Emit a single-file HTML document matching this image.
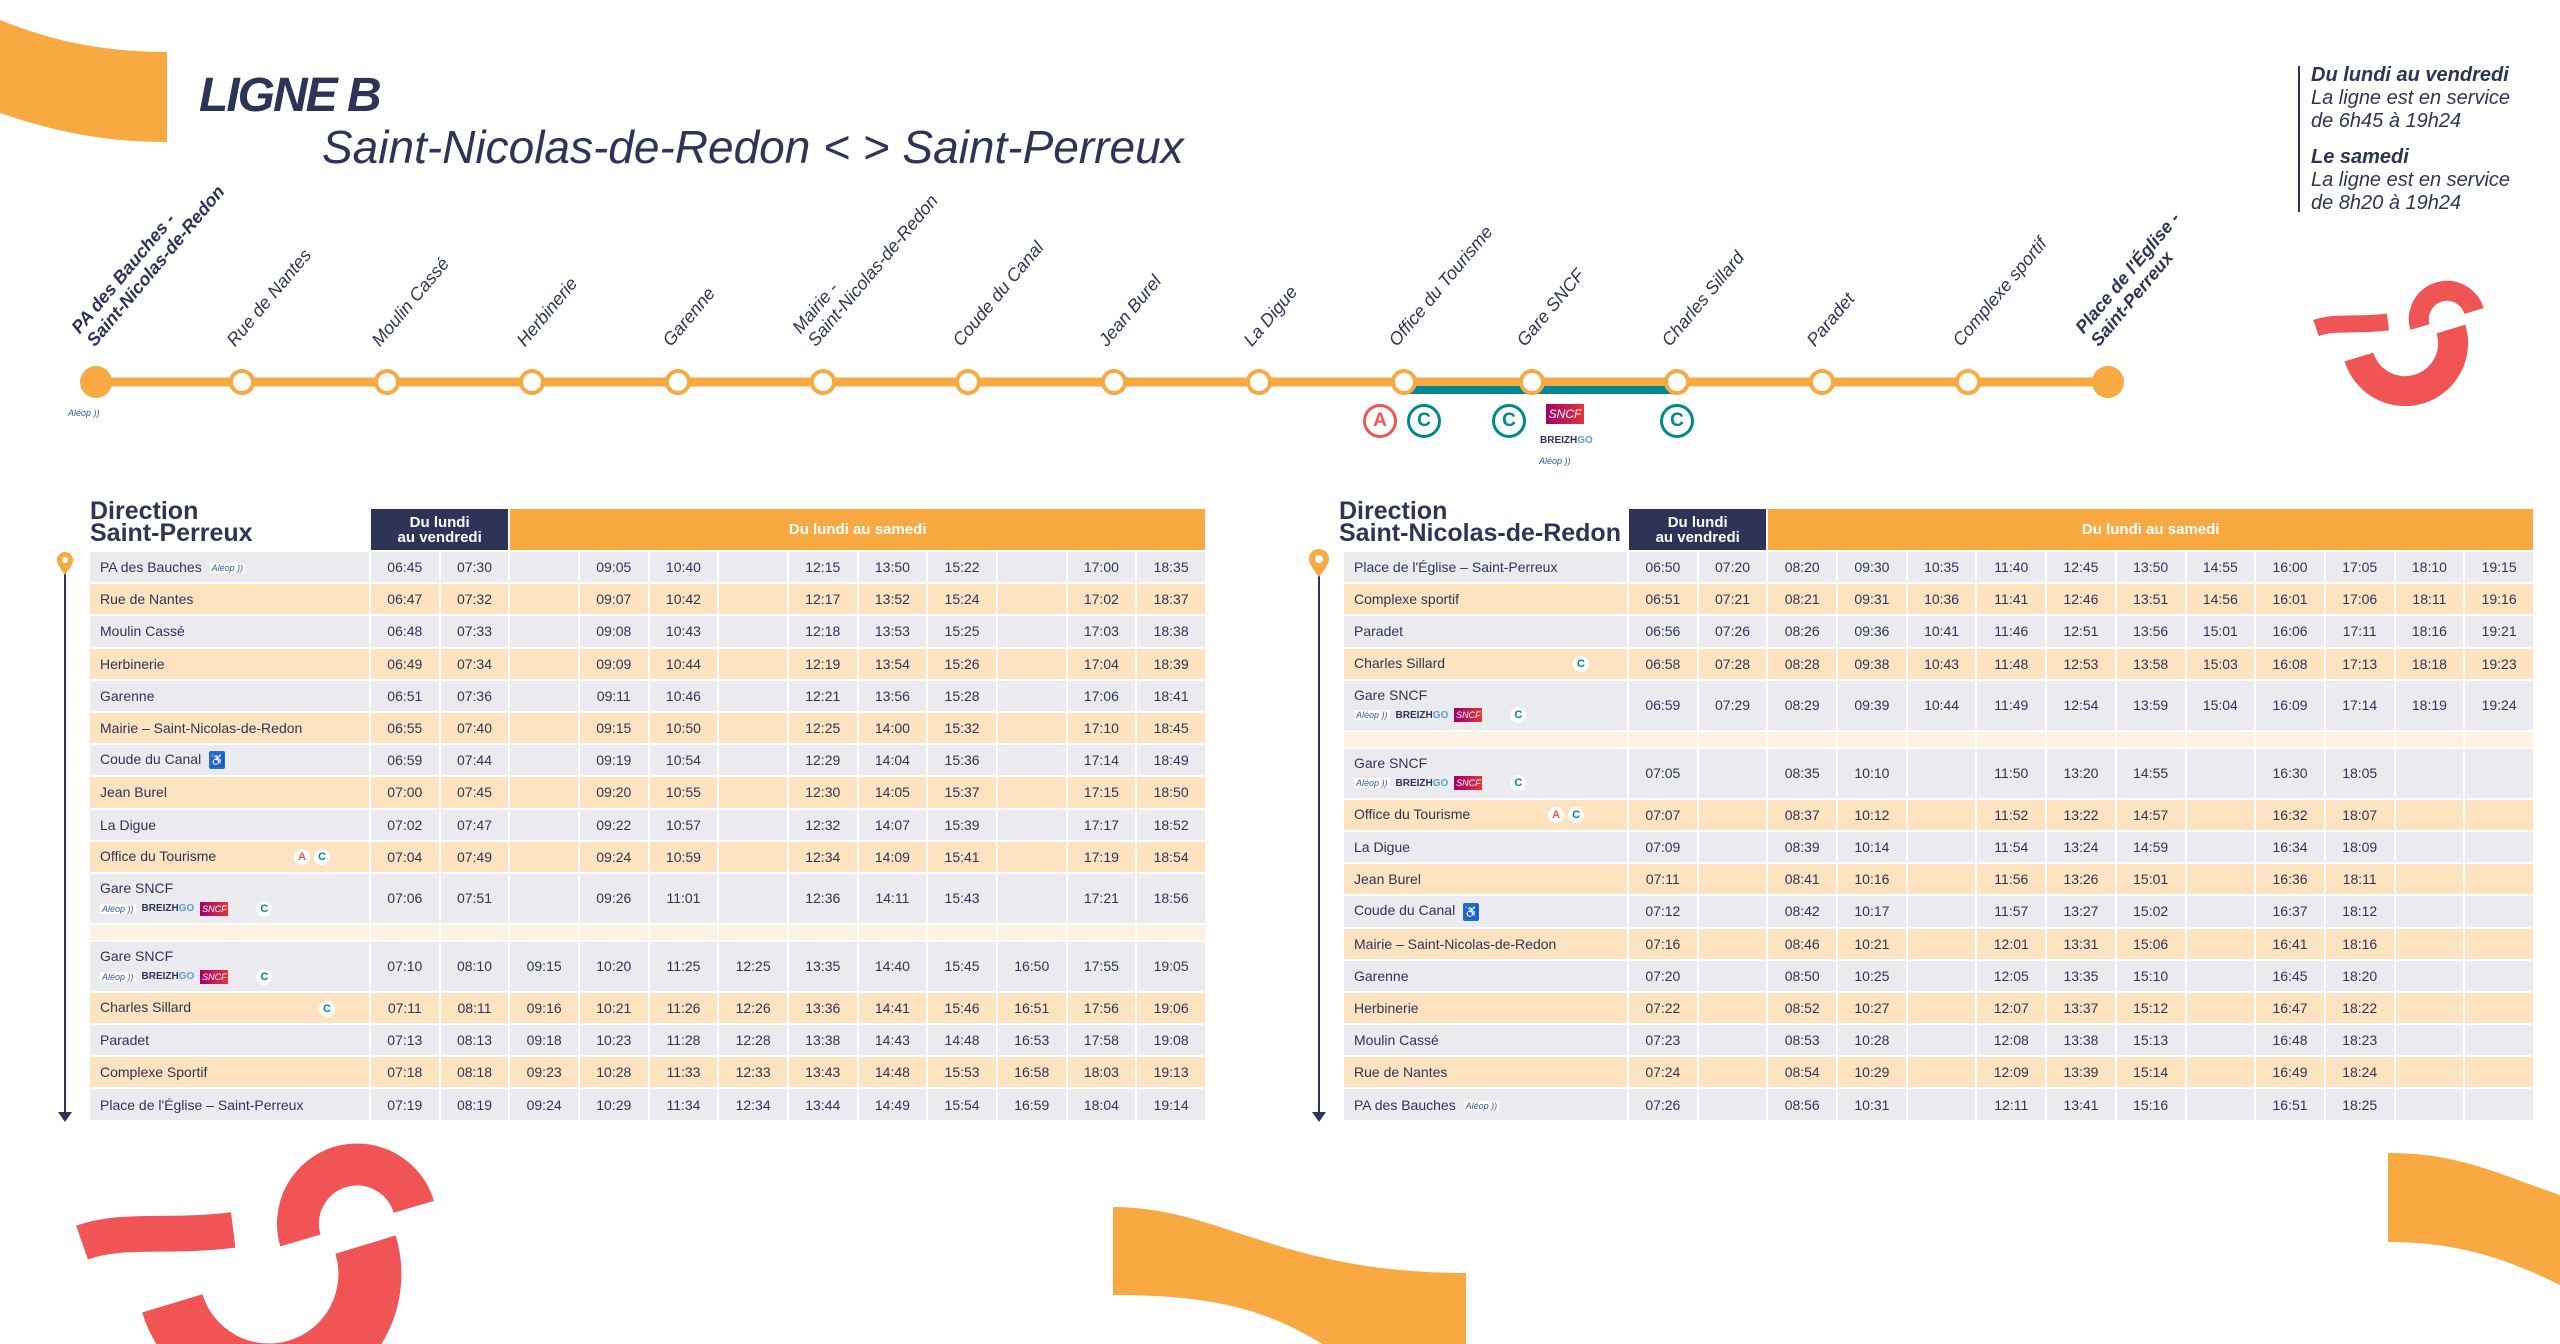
<!DOCTYPE html>
<html><head><meta charset="utf-8"><style>
*{margin:0;padding:0;box-sizing:border-box}
body{width:2560px;height:1344px;position:relative;background:#fff;overflow:hidden;font-family:"Liberation Sans",sans-serif;color:#2d3457}
.abs{position:absolute}
.lbl{position:absolute;top:330px;transform-origin:0 100%;transform:rotate(-50deg);white-space:nowrap;font-style:italic;font-size:18px;line-height:20px;color:#2d3457}
.lbl.b{font-weight:bold}
.stop{position:absolute;top:369px;width:26px;height:26px;border-radius:50%;background:#fff;border:4px solid #f9a942}
.bd{position:absolute;width:34px;height:34px;border-radius:50%;border:3px solid;background:#fff;font-weight:bold;font-size:19px;text-align:center;line-height:28px}
table{position:absolute;border-collapse:separate;border-spacing:2px;table-layout:fixed;font-family:"Liberation Sans Narrow","Liberation Sans",sans-serif;color:#2d3457;font-size:14px}
td{height:30.2px;padding:0;text-align:center;background:#ebebef;white-space:nowrap}
tr.o td{background:#fde3c0}
td.n{text-align:left;padding-left:10px}
tr.d td{height:49px}
tr.s td{height:15px;background:#fdf1e2}
tr.h td{height:41px;color:#fff;font-weight:bold;font-size:15px;line-height:15px}
td.nv{background:#2d3457}
td.or{background:#f9a942}
tr.h td.e{background:transparent}
.A,.C{display:inline-block;width:16px;height:16px;border-radius:50%;background:#fff;font-weight:bold;font-size:11px;line-height:16px;text-align:center;vertical-align:middle;margin-left:4px}
.A{color:#f05454}.C{color:#00878f}
.wc{display:inline-block;width:16px;height:18px;background:#1e73be;color:#fff;font-size:12px;line-height:18px;text-align:center;vertical-align:middle;margin-left:4px;border-radius:2px}
.al{display:inline-block;font-size:9px;font-style:italic;color:#3557a6;background:#fff;padding:0 2px;vertical-align:middle;margin-left:4px}
.sn{display:inline-block;width:28px;height:14px;background:linear-gradient(90deg,#a1006b,#e2363d);color:#fff;font-size:9px;font-style:italic;line-height:14px;text-align:center;vertical-align:middle;margin-left:6px}
.bz{display:inline-block;font-size:10px;font-weight:bold;vertical-align:middle;margin-left:6px}
.bz i{color:#5aa0d8;font-style:normal}
.sub{display:block;margin-top:3px}
.dir{position:absolute;z-index:5;top:500px;font-family:"Liberation Sans Narrow","Liberation Sans",sans-serif;font-weight:bold;font-size:25px;line-height:22px;color:#2d3457}
</style></head><body>

<svg class="abs" style="left:0;top:0" width="2560" height="1344">
<path d="M0,20 C50,40 100,52 167,52 L167,142 C100,142 50,130 0,113 Z" fill="#f9a942"/>
<path d="M1113,1207 C1220,1207 1280,1273 1466,1273 L1466,1344 L1322,1344 C1260,1305 1200,1295 1113,1295 Z" fill="#f9a942"/>
<path d="M2388,1153 C2460,1153 2500,1175 2560,1195 L2560,1285 C2500,1255 2450,1242 2388,1242 Z" fill="#f9a942"/>
<g transform="translate(2316,283)" fill="none" stroke="#f05454">
<path d="M0,45 C20,38 40,43 72,39" stroke-width="17"/>
<path d="M104,44 A28,28 0 0 1 158,28" stroke-width="20"/>
<path d="M43,74 A48,48 0 1 0 135,46" stroke-width="30"/>
</g>
<g transform="translate(82,1148) scale(2.1)" fill="none" stroke="#f05454">
<path d="M0,45 C20,38 40,43 72,39" stroke-width="17"/>
<path d="M104,44 A28,28 0 0 1 158,28" stroke-width="20"/>
<path d="M43,74 A48,48 0 1 0 135,46" stroke-width="30"/>
</g>
<line x1="96" y1="382" x2="2108" y2="382" stroke="#f9a942" stroke-width="9"/>
<line x1="1404" y1="390" x2="1677" y2="390" stroke="#00878f" stroke-width="8"/>
<circle cx="96" cy="382" r="16" fill="#f9a942"/>
<circle cx="2108" cy="382" r="16" fill="#f9a942"/>
<line x1="65" y1="570" x2="65" y2="1115" stroke="#2d3457" stroke-width="2"/>
<path d="M58,1112 L72,1112 L65,1122 Z" fill="#2d3457"/>
<path d="M65,575 C60,568 57,564 57,560 A8,8 0 1 1 73,560 C73,564 70,568 65,575 Z" fill="#f9a942"/>
<circle cx="65" cy="560" r="3" fill="#fff"/>
<line x1="1319" y1="570" x2="1319" y2="1115" stroke="#2d3457" stroke-width="2"/>
<path d="M1312,1112 L1326,1112 L1319,1122 Z" fill="#2d3457"/>
<path d="M1319,577 C1313,569 1309,564 1309,559 A10,10 0 1 1 1329,559 C1329,564 1325,569 1319,577 Z" fill="#f9a942"/>
<circle cx="1319" cy="559" r="4" fill="#fff"/>
<line x1="2299" y1="66" x2="2299" y2="212" stroke="#2d3457" stroke-width="2"/>
</svg>

<div class="abs" style="left:199px;top:68px;font-size:48px;font-weight:bold;font-style:italic;letter-spacing:-2px;color:#2d3457">LIGNE B</div>
<div class="abs" style="left:322px;top:120px;font-size:46px;font-style:italic;color:#2d3457">Saint-Nicolas-de-Redon &lt; &gt; Saint-Perreux</div>
<div class="abs" style="left:2311px;top:64px;font-size:20px;font-style:italic;line-height:23px;color:#2d3457"><b>Du lundi au vendredi</b><br>La ligne est en service<br>de 6h45 à 19h24<div style="height:13px"></div><b>Le samedi</b><br>La ligne est en service<br>de 8h20 à 19h24</div>

<div class="stop" style="left:229px"></div><div class="stop" style="left:374px"></div><div class="stop" style="left:519px"></div><div class="stop" style="left:665px"></div><div class="stop" style="left:810px"></div><div class="stop" style="left:955px"></div><div class="stop" style="left:1101px"></div><div class="stop" style="left:1246px"></div><div class="stop" style="left:1391px"></div><div class="stop" style="left:1519px"></div><div class="stop" style="left:1664px"></div><div class="stop" style="left:1809px"></div><div class="stop" style="left:1955px"></div>

<div class="lbl b" style="left:98px;top:310px">PA des Bauches -<br>Saint-Nicolas-de-Redon</div>
<div class="lbl" style="left:238px">Rue de Nantes</div>
<div class="lbl" style="left:383px">Moulin Cassé</div>
<div class="lbl" style="left:528px">Herbinerie</div>
<div class="lbl" style="left:674px">Garenne</div>
<div class="lbl" style="left:819px;top:310px">Mairie -<br>Saint-Nicolas-de-Redon</div>
<div class="lbl" style="left:964px">Coude du Canal</div>
<div class="lbl" style="left:1110px">Jean Burel</div>
<div class="lbl" style="left:1255px">La Digue</div>
<div class="lbl" style="left:1400px">Office du Tourisme</div>
<div class="lbl" style="left:1528px">Gare SNCF</div>
<div class="lbl" style="left:1673px">Charles Sillard</div>
<div class="lbl" style="left:1818px">Paradet</div>
<div class="lbl" style="left:1964px">Complexe sportif</div>
<div class="lbl b" style="left:2102px;top:310px">Place de l'Église -<br>Saint-Perreux</div>

<div class="abs" style="left:66px;top:404px"><span class="al" style="margin:0">Aléop ))</span></div>
<div class="bd" style="left:1363px;top:404px;color:#f05454;border-color:#f05454">A</div>
<div class="bd" style="left:1407px;top:404px;color:#00878f;border-color:#00878f">C</div>
<div class="bd" style="left:1492px;top:404px;color:#00878f;border-color:#00878f">C</div>
<div class="bd" style="left:1660px;top:404px;color:#00878f;border-color:#00878f">C</div>
<div class="abs" style="left:1546px;top:404px"><span class="sn" style="width:38px;height:20px;line-height:20px;font-size:12px;margin:0">SNCF</span></div>
<div class="abs" style="left:1540px;top:432px"><span class="bz" style="margin:0">BREIZH<i>GO</i></span></div>
<div class="abs" style="left:1537px;top:452px"><span class="al" style="margin:0">Aléop ))</span></div>

<div class="dir" style="left:90px">Direction<br>Saint-Perreux</div>
<div class="dir" style="left:1339px">Direction<br>Saint-Nicolas-de-Redon</div>

<table style="left:88px;top:507px;width:1119px">
<colgroup><col style="width:279px"><col span="12"></colgroup>
<tr class="h"><td class="e"></td><td class="nv" colspan="2">Du lundi<br>au vendredi</td><td class="or" colspan="10">Du lundi au samedi</td></tr>
<tr><td class="n">PA des Bauches <span class="al">Aléop ))</span></td><td>06:45</td><td>07:30</td><td></td><td>09:05</td><td>10:40</td><td></td><td>12:15</td><td>13:50</td><td>15:22</td><td></td><td>17:00</td><td>18:35</td></tr>
<tr class="o"><td class="n">Rue de Nantes</td><td>06:47</td><td>07:32</td><td></td><td>09:07</td><td>10:42</td><td></td><td>12:17</td><td>13:52</td><td>15:24</td><td></td><td>17:02</td><td>18:37</td></tr>
<tr><td class="n">Moulin Cassé</td><td>06:48</td><td>07:33</td><td></td><td>09:08</td><td>10:43</td><td></td><td>12:18</td><td>13:53</td><td>15:25</td><td></td><td>17:03</td><td>18:38</td></tr>
<tr class="o"><td class="n">Herbinerie</td><td>06:49</td><td>07:34</td><td></td><td>09:09</td><td>10:44</td><td></td><td>12:19</td><td>13:54</td><td>15:26</td><td></td><td>17:04</td><td>18:39</td></tr>
<tr><td class="n">Garenne</td><td>06:51</td><td>07:36</td><td></td><td>09:11</td><td>10:46</td><td></td><td>12:21</td><td>13:56</td><td>15:28</td><td></td><td>17:06</td><td>18:41</td></tr>
<tr class="o"><td class="n">Mairie – Saint-Nicolas-de-Redon</td><td>06:55</td><td>07:40</td><td></td><td>09:15</td><td>10:50</td><td></td><td>12:25</td><td>14:00</td><td>15:32</td><td></td><td>17:10</td><td>18:45</td></tr>
<tr><td class="n">Coude du Canal <span class="wc">♿</span></td><td>06:59</td><td>07:44</td><td></td><td>09:19</td><td>10:54</td><td></td><td>12:29</td><td>14:04</td><td>15:36</td><td></td><td>17:14</td><td>18:49</td></tr>
<tr class="o"><td class="n">Jean Burel</td><td>07:00</td><td>07:45</td><td></td><td>09:20</td><td>10:55</td><td></td><td>12:30</td><td>14:05</td><td>15:37</td><td></td><td>17:15</td><td>18:50</td></tr>
<tr><td class="n">La Digue</td><td>07:02</td><td>07:47</td><td></td><td>09:22</td><td>10:57</td><td></td><td>12:32</td><td>14:07</td><td>15:39</td><td></td><td>17:17</td><td>18:52</td></tr>
<tr class="o"><td class="n">Office du Tourisme <span style="margin-left:70px"></span><span class="A">A</span><span class="C">C</span></td><td>07:04</td><td>07:49</td><td></td><td>09:24</td><td>10:59</td><td></td><td>12:34</td><td>14:09</td><td>15:41</td><td></td><td>17:19</td><td>18:54</td></tr>
<tr class="d"><td class="n">Gare SNCF<span class="sub"><span class="al" style="margin:0">Aléop ))</span><span class="bz">BREIZH<i>GO</i></span><span class="sn">SNCF</span><span class="C" style="margin-left:28px">C</span></span></td><td>07:06</td><td>07:51</td><td></td><td>09:26</td><td>11:01</td><td></td><td>12:36</td><td>14:11</td><td>15:43</td><td></td><td>17:21</td><td>18:56</td></tr>
<tr class="s"><td></td><td></td><td></td><td></td><td></td><td></td><td></td><td></td><td></td><td></td><td></td><td></td><td></td></tr>
<tr class="d"><td class="n">Gare SNCF<span class="sub"><span class="al" style="margin:0">Aléop ))</span><span class="bz">BREIZH<i>GO</i></span><span class="sn">SNCF</span><span class="C" style="margin-left:28px">C</span></span></td><td>07:10</td><td>08:10</td><td>09:15</td><td>10:20</td><td>11:25</td><td>12:25</td><td>13:35</td><td>14:40</td><td>15:45</td><td>16:50</td><td>17:55</td><td>19:05</td></tr>
<tr class="o"><td class="n">Charles Sillard <span style="margin-left:120px"></span><span class="C">C</span></td><td>07:11</td><td>08:11</td><td>09:16</td><td>10:21</td><td>11:26</td><td>12:26</td><td>13:36</td><td>14:41</td><td>15:46</td><td>16:51</td><td>17:56</td><td>19:06</td></tr>
<tr><td class="n">Paradet</td><td>07:13</td><td>08:13</td><td>09:18</td><td>10:23</td><td>11:28</td><td>12:28</td><td>13:38</td><td>14:43</td><td>14:48</td><td>16:53</td><td>17:58</td><td>19:08</td></tr>
<tr class="o"><td class="n">Complexe Sportif</td><td>07:18</td><td>08:18</td><td>09:23</td><td>10:28</td><td>11:33</td><td>12:33</td><td>13:43</td><td>14:48</td><td>15:53</td><td>16:58</td><td>18:03</td><td>19:13</td></tr>
<tr><td class="n">Place de l'Église – Saint-Perreux</td><td>07:19</td><td>08:19</td><td>09:24</td><td>10:29</td><td>11:34</td><td>12:34</td><td>13:44</td><td>14:49</td><td>15:54</td><td>16:59</td><td>18:04</td><td>19:14</td></tr>
</table>

<table style="left:1342px;top:507px;width:1193px">
<colgroup><col style="width:283px"><col span="13"></colgroup>
<tr class="h"><td class="e"></td><td class="nv" colspan="2">Du lundi<br>au vendredi</td><td class="or" colspan="11">Du lundi au samedi</td></tr>
<tr><td class="n">Place de l'Église – Saint-Perreux</td><td>06:50</td><td>07:20</td><td>08:20</td><td>09:30</td><td>10:35</td><td>11:40</td><td>12:45</td><td>13:50</td><td>14:55</td><td>16:00</td><td>17:05</td><td>18:10</td><td>19:15</td></tr>
<tr class="o"><td class="n">Complexe sportif</td><td>06:51</td><td>07:21</td><td>08:21</td><td>09:31</td><td>10:36</td><td>11:41</td><td>12:46</td><td>13:51</td><td>14:56</td><td>16:01</td><td>17:06</td><td>18:11</td><td>19:16</td></tr>
<tr><td class="n">Paradet</td><td>06:56</td><td>07:26</td><td>08:26</td><td>09:36</td><td>10:41</td><td>11:46</td><td>12:51</td><td>13:56</td><td>15:01</td><td>16:06</td><td>17:11</td><td>18:16</td><td>19:21</td></tr>
<tr class="o"><td class="n">Charles Sillard <span style="margin-left:120px"></span><span class="C">C</span></td><td>06:58</td><td>07:28</td><td>08:28</td><td>09:38</td><td>10:43</td><td>11:48</td><td>12:53</td><td>13:58</td><td>15:03</td><td>16:08</td><td>17:13</td><td>18:18</td><td>19:23</td></tr>
<tr class="d"><td class="n">Gare SNCF<span class="sub"><span class="al" style="margin:0">Aléop ))</span><span class="bz">BREIZH<i>GO</i></span><span class="sn">SNCF</span><span class="C" style="margin-left:28px">C</span></span></td><td>06:59</td><td>07:29</td><td>08:29</td><td>09:39</td><td>10:44</td><td>11:49</td><td>12:54</td><td>13:59</td><td>15:04</td><td>16:09</td><td>17:14</td><td>18:19</td><td>19:24</td></tr>
<tr class="s"><td></td><td></td><td></td><td></td><td></td><td></td><td></td><td></td><td></td><td></td><td></td><td></td><td></td><td></td></tr>
<tr class="d"><td class="n">Gare SNCF<span class="sub"><span class="al" style="margin:0">Aléop ))</span><span class="bz">BREIZH<i>GO</i></span><span class="sn">SNCF</span><span class="C" style="margin-left:28px">C</span></span></td><td>07:05</td><td></td><td>08:35</td><td>10:10</td><td></td><td>11:50</td><td>13:20</td><td>14:55</td><td></td><td>16:30</td><td>18:05</td><td></td><td></td></tr>
<tr class="o"><td class="n">Office du Tourisme <span style="margin-left:70px"></span><span class="A">A</span><span class="C">C</span></td><td>07:07</td><td></td><td>08:37</td><td>10:12</td><td></td><td>11:52</td><td>13:22</td><td>14:57</td><td></td><td>16:32</td><td>18:07</td><td></td><td></td></tr>
<tr><td class="n">La Digue</td><td>07:09</td><td></td><td>08:39</td><td>10:14</td><td></td><td>11:54</td><td>13:24</td><td>14:59</td><td></td><td>16:34</td><td>18:09</td><td></td><td></td></tr>
<tr class="o"><td class="n">Jean Burel</td><td>07:11</td><td></td><td>08:41</td><td>10:16</td><td></td><td>11:56</td><td>13:26</td><td>15:01</td><td></td><td>16:36</td><td>18:11</td><td></td><td></td></tr>
<tr><td class="n">Coude du Canal <span class="wc">♿</span></td><td>07:12</td><td></td><td>08:42</td><td>10:17</td><td></td><td>11:57</td><td>13:27</td><td>15:02</td><td></td><td>16:37</td><td>18:12</td><td></td><td></td></tr>
<tr class="o"><td class="n">Mairie – Saint-Nicolas-de-Redon</td><td>07:16</td><td></td><td>08:46</td><td>10:21</td><td></td><td>12:01</td><td>13:31</td><td>15:06</td><td></td><td>16:41</td><td>18:16</td><td></td><td></td></tr>
<tr><td class="n">Garenne</td><td>07:20</td><td></td><td>08:50</td><td>10:25</td><td></td><td>12:05</td><td>13:35</td><td>15:10</td><td></td><td>16:45</td><td>18:20</td><td></td><td></td></tr>
<tr class="o"><td class="n">Herbinerie</td><td>07:22</td><td></td><td>08:52</td><td>10:27</td><td></td><td>12:07</td><td>13:37</td><td>15:12</td><td></td><td>16:47</td><td>18:22</td><td></td><td></td></tr>
<tr><td class="n">Moulin Cassé</td><td>07:23</td><td></td><td>08:53</td><td>10:28</td><td></td><td>12:08</td><td>13:38</td><td>15:13</td><td></td><td>16:48</td><td>18:23</td><td></td><td></td></tr>
<tr class="o"><td class="n">Rue de Nantes</td><td>07:24</td><td></td><td>08:54</td><td>10:29</td><td></td><td>12:09</td><td>13:39</td><td>15:14</td><td></td><td>16:49</td><td>18:24</td><td></td><td></td></tr>
<tr><td class="n">PA des Bauches <span class="al">Aléop ))</span></td><td>07:26</td><td></td><td>08:56</td><td>10:31</td><td></td><td>12:11</td><td>13:41</td><td>15:16</td><td></td><td>16:51</td><td>18:25</td><td></td><td></td></tr>
</table>
</body></html>
